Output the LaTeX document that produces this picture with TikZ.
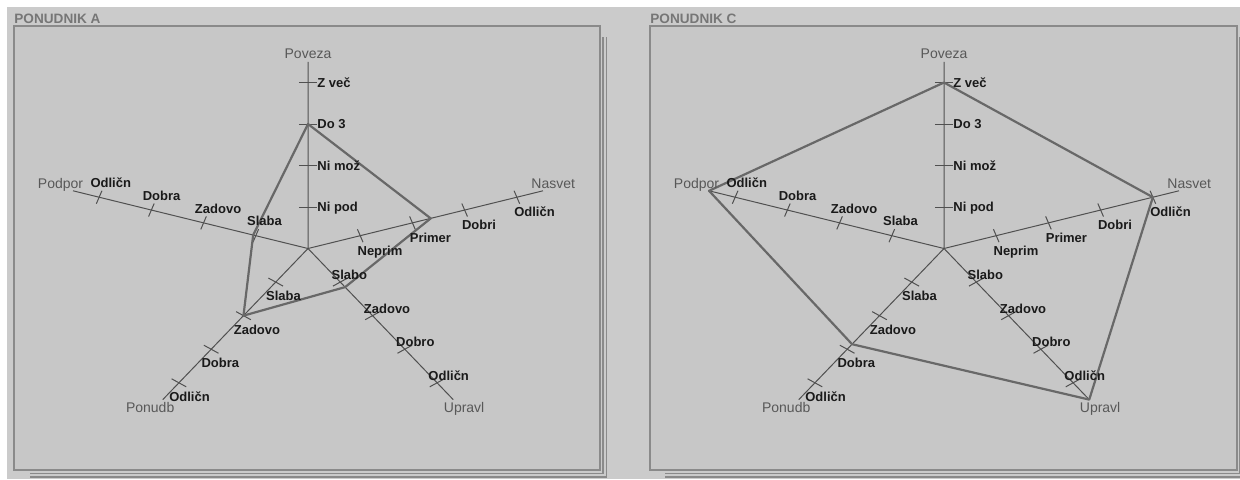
\documentclass[tikz,border=0pt]{standalone}
\usepackage{fontspec}
\setmainfont{Liberation Sans}
\usepackage{tikz}

\definecolor{outergray}{HTML}{CBCBCB}
\definecolor{panelgray}{HTML}{C7C7C7}
\definecolor{framegray}{HTML}{8A8A8A}
\definecolor{axisgray}{HTML}{505050}
\definecolor{seriesgray}{HTML}{686868}
\definecolor{namegray}{HTML}{585858}
\definecolor{titlegray}{HTML}{767676}
\definecolor{valblack}{HTML}{1A1A1A}

\begin{document}
\begin{tikzpicture}
		[
		x = 0.5pt, y = -0.5pt,
		panelframe/.style = {draw=framegray, line width=1pt, fill=panelgray},
		panelshadow/.style = {draw=framegray, line width=0.8pt},
		paneltitle/.style = {text=titlegray, font=\bfseries\fontsize{6.8}{8}\selectfont, anchor=west, inner sep=0pt},
		axisline/.style = {draw=axisgray, line width=0.5pt},
		series/.style = {draw=seriesgray, line width=1.1pt, line join=round},
		axname/.style = {text=namegray, font=\fontsize{7}{8}\selectfont, inner sep=0pt, text height=5pt, text depth=0pt},
		val/.style = {text=valblack, font=\bfseries\fontsize{6.5}{7}\selectfont, inner sep=0pt, text height=4.6pt, text depth=0pt, anchor=west},
		povl/.style = {val, xshift=4.5pt},
		nasl/.style = {val, xshift=-1.5pt, yshift=-7.5pt},
		upl/.style = {val, xshift=-4.5pt, yshift=3.5pt},
		ponl/.style = {val, xshift=-5pt, yshift=-7pt},
		podl/.style = {val, xshift=-4.5pt, yshift=7.2pt}
		]
		
		\useasboundingbox (0,0) rectangle (1240,479);
		\fill[white] (0,0) rectangle (1240,479);
		\fill[outergray] (7,7) rectangle (1240,479);
		
		% ponudnik A
		\draw[panelshadow] (603,37) -- (603,473.5) -- (30,473.5);
		\draw[panelshadow] (606.5,37) -- (606.5,477) -- (30,477);
		\draw[panelframe] (14,26) rectangle (600,470);
		\node[paneltitle] (titleA) at (14,19) {PONUDNIK A};
		\begin{scope}[shift={(308,248.5)}, x=27.45pt, y=20.75pt]
			\coordinate (oA) at (0,0);
			\coordinate (povA) at (90:4.5);
			\coordinate (nasA) at (18:4.5);
			\coordinate (upA) at (-54:4.5);
			\coordinate (ponA) at (-126:4.5);
			\coordinate (podA) at (162:4.5);
			\draw[axisline] (oA) -- (povA) (oA) -- (nasA) (oA) -- (upA) (oA) -- (ponA) (oA) -- (podA);
			\draw[axisline] (90:1) ++(180:0.165) -- ++(0:0.33) (90:2) ++(180:0.165) -- ++(0:0.33) (90:3) ++(180:0.165) -- ++(0:0.33) (90:4) ++(180:0.165) -- ++(0:0.33);
			\draw[axisline] (18:1) ++(108:0.165) -- ++(288:0.33) (18:2) ++(108:0.165) -- ++(288:0.33) (18:3) ++(108:0.165) -- ++(288:0.33) (18:4) ++(108:0.165) -- ++(288:0.33);
			\draw[axisline] (-54:1) ++(36:0.165) -- ++(216:0.33) (-54:2) ++(36:0.165) -- ++(216:0.33) (-54:3) ++(36:0.165) -- ++(216:0.33) (-54:4) ++(36:0.165) -- ++(216:0.33);
			\draw[axisline] (-126:1) ++(-36:0.165) -- ++(144:0.33) (-126:2) ++(-36:0.165) -- ++(144:0.33) (-126:3) ++(-36:0.165) -- ++(144:0.33) (-126:4) ++(-36:0.165) -- ++(144:0.33);
			\draw[axisline] (162:1) ++(72:0.165) -- ++(252:0.33) (162:2) ++(72:0.165) -- ++(252:0.33) (162:3) ++(72:0.165) -- ++(252:0.33) (162:4) ++(72:0.165) -- ++(252:0.33);
			
			\coordinate (sA1) at (90:3);
			\coordinate (sA2) at (18:2.35);
			\coordinate (sA3) at (-54:1.15);
			\coordinate (sA4) at (-126:2);
			\coordinate (sA5) at (162:1.05);
			\draw[series] (sA1) -- (sA2) -- (sA3) -- (sA4) -- (sA5) -- cycle;
			
			\node[axname, yshift=4.2pt] (povAn) at (povA) {Poveza};
			\node[axname, xshift=5.15pt, yshift=3.65pt] (nasAn) at (nasA) {Nasvet};
			\node[axname, xshift=5.45pt, yshift=-4pt] (upAn) at (upA) {Upravl};
			\node[axname, xshift=-6.3pt, yshift=-4pt] (ponAn) at (ponA) {Ponudb};
			\node[axname, xshift=-6.25pt, yshift=3.65pt] (podAn) at (podA) {Podpor};
			
			\node[povl] (povA1) at (90:1) {Ni pod};
			\node[povl] (povA2) at (90:2) {Ni mož};
			\node[povl] (povA3) at (90:3) {Do 3};
			\node[povl] (povA4) at (90:4) {Z več};
			\node[nasl] (nasA1) at (18:1) {Neprim};
			\node[nasl] (nasA2) at (18:2) {Primer};
			\node[nasl] (nasA3) at (18:3) {Dobri};
			\node[nasl] (nasA4) at (18:4) {Odličn};
			\node[upl] (upA1) at (-54:1) {Slabo};
			\node[upl] (upA2) at (-54:2) {Zadovo};
			\node[upl] (upA3) at (-54:3) {Dobro};
			\node[upl] (upA4) at (-54:4) {Odličn};
			\node[ponl] (ponA1) at (-126:1) {Slaba};
			\node[ponl] (ponA2) at (-126:2) {Zadovo};
			\node[ponl] (ponA3) at (-126:3) {Dobra};
			\node[ponl] (ponA4) at (-126:4) {Odličn};
			\node[podl] (podA1) at (162:1) {Slaba};
			\node[podl] (podA2) at (162:2) {Zadovo};
			\node[podl] (podA3) at (162:3) {Dobra};
			\node[podl] (podA4) at (162:4) {Odličn};
		\end{scope}
		
		% ponudnik C
		\draw[panelshadow] (1239.5,37) -- (1239.5,473.5) -- (665,473.5);
		\draw[panelshadow] (1243,37) -- (1243,477) -- (665,477);
		\draw[panelframe] (650,26) rectangle (1236.5,470);
		\node[paneltitle] (titleC) at (650,19) {PONUDNIK C};
		\begin{scope}[shift={(944,248.5)}, x=27.45pt, y=20.75pt]
			\coordinate (oC) at (0,0);
			\coordinate (povC) at (90:4.5);
			\coordinate (nasC) at (18:4.5);
			\coordinate (upC) at (-54:4.5);
			\coordinate (ponC) at (-126:4.5);
			\coordinate (podC) at (162:4.5);
			\draw[axisline] (oC) -- (povC) (oC) -- (nasC) (oC) -- (upC) (oC) -- (ponC) (oC) -- (podC);
			\draw[axisline] (90:1) ++(180:0.165) -- ++(0:0.33) (90:2) ++(180:0.165) -- ++(0:0.33) (90:3) ++(180:0.165) -- ++(0:0.33) (90:4) ++(180:0.165) -- ++(0:0.33);
			\draw[axisline] (18:1) ++(108:0.165) -- ++(288:0.33) (18:2) ++(108:0.165) -- ++(288:0.33) (18:3) ++(108:0.165) -- ++(288:0.33) (18:4) ++(108:0.165) -- ++(288:0.33);
			\draw[axisline] (-54:1) ++(36:0.165) -- ++(216:0.33) (-54:2) ++(36:0.165) -- ++(216:0.33) (-54:3) ++(36:0.165) -- ++(216:0.33) (-54:4) ++(36:0.165) -- ++(216:0.33);
			\draw[axisline] (-126:1) ++(-36:0.165) -- ++(144:0.33) (-126:2) ++(-36:0.165) -- ++(144:0.33) (-126:3) ++(-36:0.165) -- ++(144:0.33) (-126:4) ++(-36:0.165) -- ++(144:0.33);
			\draw[axisline] (162:1) ++(72:0.165) -- ++(252:0.33) (162:2) ++(72:0.165) -- ++(252:0.33) (162:3) ++(72:0.165) -- ++(252:0.33) (162:4) ++(72:0.165) -- ++(252:0.33);
			
			\coordinate (sC1) at (90:4);
			\coordinate (sC2) at (18:4);
			\coordinate (sC3) at (-54:4.5);
			\coordinate (sC4) at (-126:2.85);
			\coordinate (sC5) at (162:4.5);
			\draw[series] (sC1) -- (sC2) -- (sC3) -- (sC4) -- (sC5) -- cycle;
			
			\node[axname, yshift=4.2pt] (povCn) at (povC) {Poveza};
			\node[axname, xshift=5.15pt, yshift=3.65pt] (nasCn) at (nasC) {Nasvet};
			\node[axname, xshift=5.45pt, yshift=-4pt] (upCn) at (upC) {Upravl};
			\node[axname, xshift=-6.3pt, yshift=-4pt] (ponCn) at (ponC) {Ponudb};
			\node[axname, xshift=-6.25pt, yshift=3.65pt] (podCn) at (podC) {Podpor};
			
			\node[povl] (povC1) at (90:1) {Ni pod};
			\node[povl] (povC2) at (90:2) {Ni mož};
			\node[povl] (povC3) at (90:3) {Do 3};
			\node[povl] (povC4) at (90:4) {Z več};
			\node[nasl] (nasC1) at (18:1) {Neprim};
			\node[nasl] (nasC2) at (18:2) {Primer};
			\node[nasl] (nasC3) at (18:3) {Dobri};
			\node[nasl] (nasC4) at (18:4) {Odličn};
			\node[upl] (upC1) at (-54:1) {Slabo};
			\node[upl] (upC2) at (-54:2) {Zadovo};
			\node[upl] (upC3) at (-54:3) {Dobro};
			\node[upl] (upC4) at (-54:4) {Odličn};
			\node[ponl] (ponC1) at (-126:1) {Slaba};
			\node[ponl] (ponC2) at (-126:2) {Zadovo};
			\node[ponl] (ponC3) at (-126:3) {Dobra};
			\node[ponl] (ponC4) at (-126:4) {Odličn};
			\node[podl] (podC1) at (162:1) {Slaba};
			\node[podl] (podC2) at (162:2) {Zadovo};
			\node[podl] (podC3) at (162:3) {Dobra};
			\node[podl] (podC4) at (162:4) {Odličn};
		\end{scope}
		
\end{tikzpicture}
\end{document}
